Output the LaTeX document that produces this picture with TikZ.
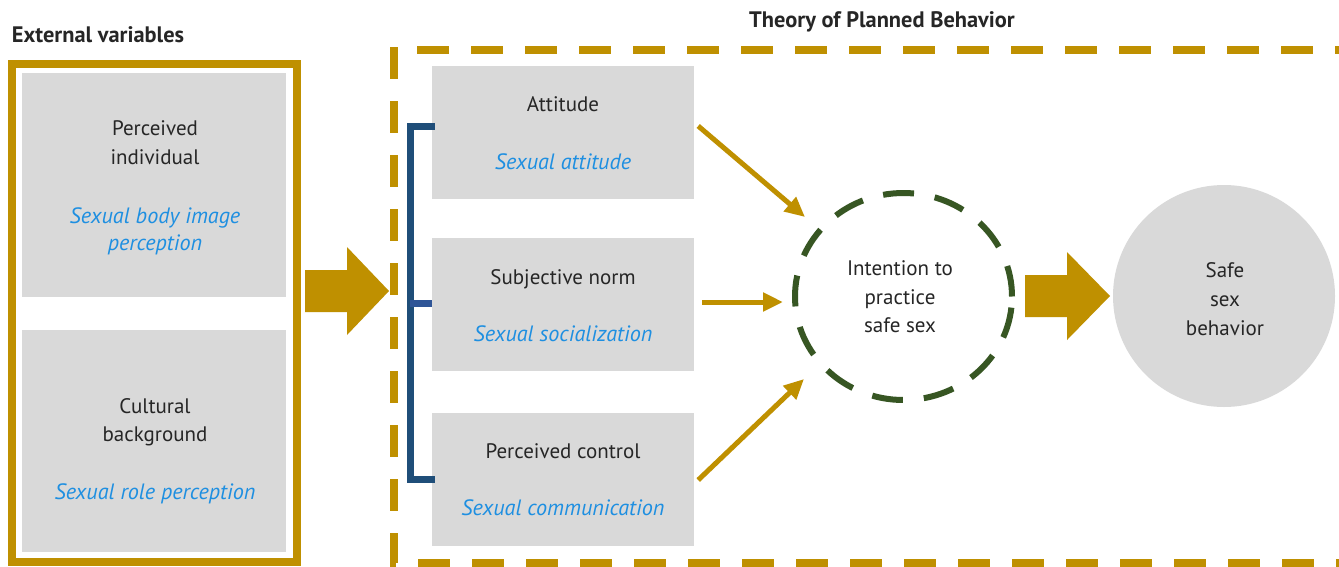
\documentclass[tikz,border=0pt]{standalone}
\usepackage{fontspec}
\setmainfont{PT Sans}
\usetikzlibrary{arrows.meta,shapes.geometric}
\definecolor{gold}{HTML}{BF9000}
\definecolor{boxgray}{HTML}{D9D9D9}
\definecolor{txtblue}{HTML}{1E8FE1}
\definecolor{txtdark}{HTML}{262626}
\definecolor{brblue}{HTML}{1F4E79}
\definecolor{brblue2}{HTML}{2F5597}
\definecolor{dgreen}{HTML}{375623}
\begin{document}
\begin{tikzpicture}[x=1pt,y=-1pt,
  graybox/.style={fill=boxgray, draw=none, inner sep=0, rectangle},
  lbl/.style={text=txtdark, font=\fontsize{21}{28}\selectfont, inner sep=0, anchor=base},
  sublbl/.style={text=txtblue, font=\fontsize{22.2}{28}\selectfont\itshape, inner sep=0, anchor=base},
  ttl/.style={text=txtdark, font=\fontsize{22.4}{26}\selectfont\bfseries, inner sep=0, anchor=base},
  thinarr/.style={draw=gold, line width=5pt, -{Triangle[length=20pt,width=18pt]}},
  bigarr/.style={fill=gold, draw=none},
  bracket/.style={draw=brblue, line width=7pt},
  tpbframe/.style={draw=gold, line width=7.5pt, dash pattern=on 32pt off 22pt}
]
\useasboundingbox (0,0) rectangle (1339,566);
\clip (0,0) rectangle (1339,566);
\fill[white] (0,0) rectangle (1339,566);

% titles
\node[ttl] (ttlext) at (98,42) {External variables};
\node[ttl] (ttltpb) at (882,27) {Theory of Planned Behavior};

% external variables frame
\node[draw=gold, line width=8pt, rectangle, inner sep=0, minimum width=285pt, minimum height=498pt] (ext) at (154.5,313) {};
\node[graybox, minimum width=264pt, minimum height=224pt] (pind) at (154,185) {};
\node[graybox, minimum width=264pt, minimum height=222pt] (cult) at (154,441) {};
\node[lbl] (pindA) at (155,135) {Perceived};
\node[lbl] (pindB) at (155,164) {individual};
\node[sublbl] (pindC) at (155,223) {Sexual body image};
\node[sublbl] (pindD) at (155,250) {perception};
\node[lbl] (cultA) at (155,413) {Cultural};
\node[lbl] (cultB) at (155,441) {background};
\node[sublbl] (cultC) at (155,499) {Sexual role perception};

% TPB dashed frame
\coordinate (tpbTL) at (394,47);
\coordinate (tpbBL) at (394,563);
\coordinate (tpbBR) at (1400,563);
\coordinate (tpbT1) at (417,50);
\coordinate (tpbTR) at (1400,50);
\draw[tpbframe] (tpbTL) -- (tpbBL) -- (tpbBR);
\draw[tpbframe] (tpbT1) -- (tpbTR);

% TPB boxes
\node[graybox, minimum width=262pt, minimum height=133pt] (att) at (563,132.5) {};
\node[graybox, minimum width=262pt, minimum height=133pt] (norm) at (563,304.5) {};
\node[graybox, minimum width=262pt, minimum height=133pt] (ctl) at (563,479.5) {};
\node[lbl] (attA) at (563,111) {Attitude};
\node[sublbl] (attB) at (563,169) {Sexual attitude};
\node[lbl] (normA) at (563,284) {Subjective norm};
\node[sublbl] (normB) at (563,341) {Sexual socialization};
\node[lbl] (ctlA) at (563,458) {Perceived control};
\node[sublbl] (ctlB) at (563,515) {Sexual communication};

% bracket
\coordinate (brT) at (410,126);
\coordinate (brM) at (410,303);
\coordinate (brB) at (410,479);
\draw[bracket, line cap=rect] (brT -| att.west) -- (brT) -- (brB) -- (brB -| ctl.west);
\draw[bracket, draw=brblue2] (brM) -- (brM -| norm.west);

% intention circle
\node[ellipse, draw=dgreen, line width=6pt, dash pattern=on 31pt off 21pt, minimum width=217pt, minimum height=207pt, inner sep=0] (int) at (903.5,296.5) {};
\node[lbl] (intA) at (900,275) {Intention to};
\node[lbl] (intB) at (900,304) {practice};
\node[lbl] (intC) at (900,332) {safe sex};

% safe sex behavior
\node[circle, fill=boxgray, minimum size=222pt, inner sep=0] (safe) at (1224,296) {};
\node[lbl] (safeA) at (1225,277) {Safe};
\node[lbl] (safeB) at (1225,306) {sex};
\node[lbl] (safeC) at (1225,335) {behavior};

% big arrows
\fill[bigarr] (305,270) -- (347,270) -- (347,247) -- (389,291) -- (347,335) -- (347,312) -- (305,312) -- cycle;
\fill[bigarr] (1025,275) -- (1067,275) -- (1067,252) -- (1110,296) -- (1067,340) -- (1067,317) -- (1025,317) -- cycle;

% thin arrows
\draw[thinarr] ([shift={(4,-6.5)}]att.east) -- ([shift={(-98.5,-79.5)}]int.center);
\draw[thinarr] ([shift={(8,-2.5)}]norm.east) -- ([shift={(-120.5,5.5)}]int.center);
\draw[thinarr] ([shift={(4,0.5)}]ctl.east) -- ([shift={(-99.5,82.5)}]int.center);
\end{tikzpicture}
\end{document}
